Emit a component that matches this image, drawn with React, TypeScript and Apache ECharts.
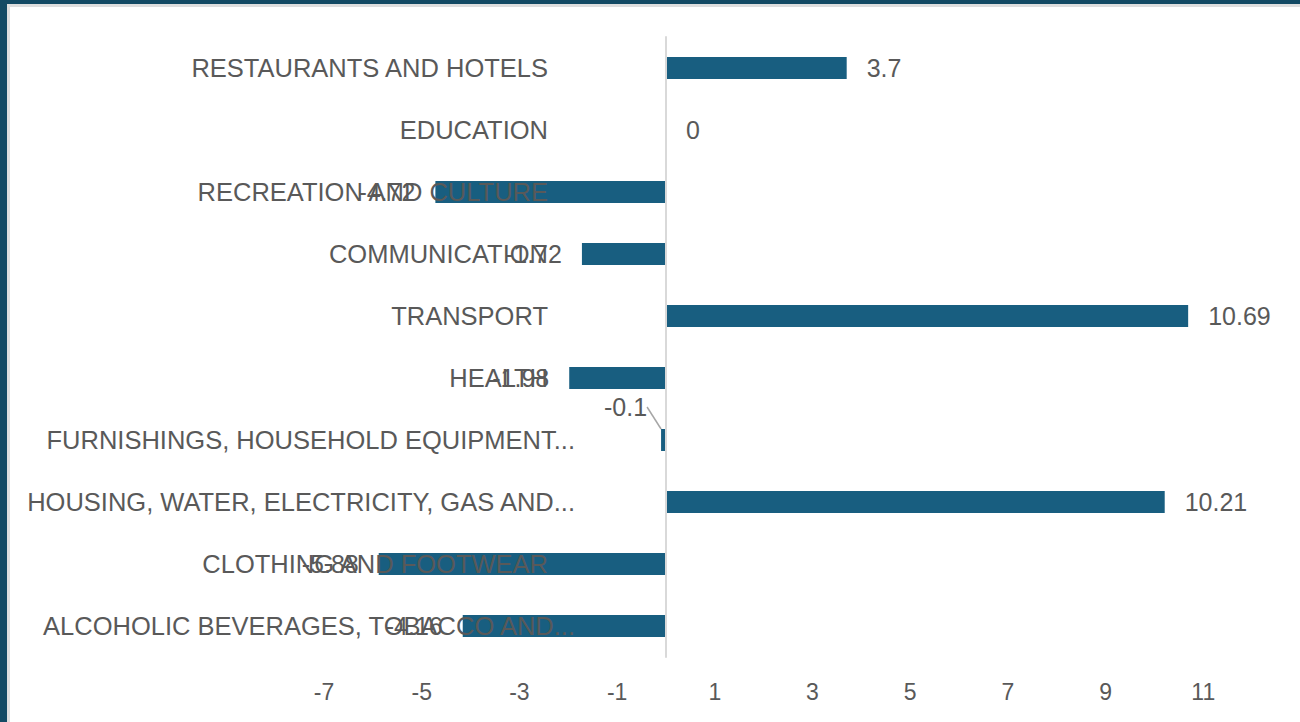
import React, { useEffect, useRef } from "react";
import * as echarts from "echarts";

const categories = [
  "ALCOHOLIC BEVERAGES, TOBACCO AND NARCOTICS",
  "CLOTHING AND FOOTWEAR",
  "HOUSING, WATER, ELECTRICITY, GAS AND OTHER FUELS",
  "FURNISHINGS, HOUSEHOLD EQUIPMENT AND ROUTINE HOUSEHOLD MAINTENANCE",
  "HEALTH",
  "TRANSPORT",
  "COMMUNICATION",
  "RECREATION AND CULTURE",
  "EDUCATION",
  "RESTAURANTS AND HOTELS",
];
const values = [-4.16, -5.88, 10.21, -0.1, -1.98, 10.69, -1.72, -4.72, 0, 3.7];

const X_MIN = -7;
const X_MAX = 13;
const X_INTERVAL = 2;

const FONT = "'Liberation Sans', Arial, sans-serif";
const TEXT = "#595959";
const BAR = "#185e80";
const CAT_SIZE = 25.5;
const MAXW = 570;

let ctx: CanvasRenderingContext2D | null = null;
function measure(s: string) {
  if (!ctx) {
    ctx = document.createElement("canvas").getContext("2d");
    if (ctx) ctx.font = CAT_SIZE + "px 'Liberation Sans'";
  }
  return ctx ? ctx.measureText(s).width : s.length * 14;
}
function fitLabel(label: string) {
  if (measure(label) <= MAXW) return "{a|" + label + "}";
  const words = label.split(" ");
  let s = "";
  for (const w of words) {
    const t = s ? s + " " + w : w;
    if (measure(t + "...") > MAXW) break;
    s = t;
  }
  return "{b|" + s + "...}";
}

export default function App() {
  const ref = useRef<HTMLDivElement>(null);
  useEffect(() => {
    if (!ref.current) return;
    const chart = echarts.init(ref.current, undefined, { renderer: "svg" });
    const smallIdx = values.findIndex((v) => v === -0.1);
    chart.setOption({
      animation: false,
      backgroundColor: "#ffffff",
      graphic: [
        { type: "rect", shape: { x: 7, y: 4, width: 3, height: 718 }, style: { fill: "#dedede" }, z: 100 },
        { type: "rect", shape: { x: 7, y: 4, width: 1293, height: 3 }, style: { fill: "#dedede" }, z: 100 },
        { type: "rect", shape: { x: 0, y: 0, width: 7, height: 722 }, style: { fill: "#134a64" }, z: 101 },
        { type: "rect", shape: { x: 0, y: 0, width: 1300, height: 4 }, style: { fill: "#134a64" }, z: 101 },
      ],
      grid: {
        left: 324,
        width: 977,
        top: 37,
        height: 620,
        containLabel: false,
        outerBoundsMode: "none",
      },
      xAxis: {
        type: "value",
        min: X_MIN,
        max: X_MAX,
        interval: X_INTERVAL,
        axisLine: { show: false },
        axisTick: { show: false },
        splitLine: { show: false },
        axisLabel: {
          color: TEXT,
          fontSize: 23,
          fontFamily: FONT,
          margin: 23,
          showMaxLabel: false,
        },
      },
      yAxis: {
        type: "category",
        data: categories,
        z: 10,
        axisLine: { onZero: true, lineStyle: { color: "#d9d9d9", width: 2 } },
        axisTick: { show: false },
        splitLine: { show: false },
        axisLabel: {
          margin: -251,
          color: TEXT,
          fontSize: CAT_SIZE,
          fontFamily: FONT,
          formatter: (v: string) => fitLabel(v),
          rich: {
            a: { color: TEXT, fontSize: CAT_SIZE, fontFamily: FONT, padding: [0, 27, 0, 0] },
            b: { color: TEXT, fontSize: CAT_SIZE, fontFamily: FONT },
          },
        },
      },
      series: [
        {
          type: "bar",
          barWidth: 22,
          itemStyle: { color: BAR },
          data: values.map((v, i) => ({
            value: v,
            label: { position: v < 0 ? "left" : "right" },
            labelLine: { show: i === smallIdx },
          })),
          label: {
            show: true,
            distance: 20,
            color: TEXT,
            fontSize: 25,
            fontFamily: FONT,
          },
          labelLine: { show: false, lineStyle: { color: "#a6a6a6", width: 1.5 } },
          labelLayout: (p: any) =>
            p.dataIndex === smallIdx ? { dx: 6, dy: -33 } : {},
        },
      ],
    });
    return () => chart.dispose();
  }, []);
  return (
    <div
      ref={ref}
      style={{ position: "absolute", left: 0, top: 0, width: 1300, height: 722 }}
    />
  );
}
